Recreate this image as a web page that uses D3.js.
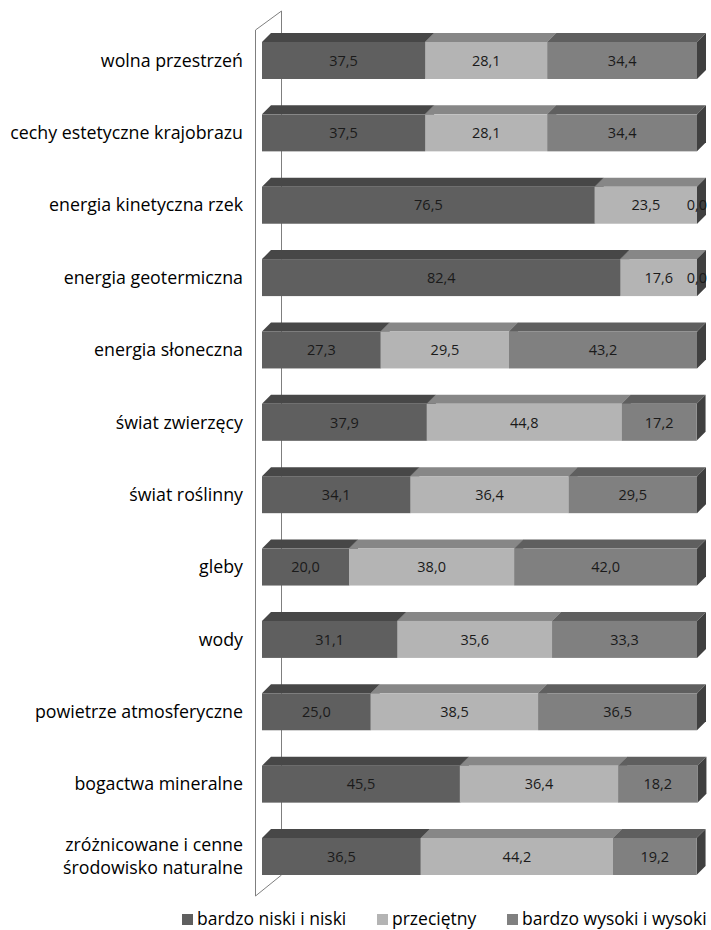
<!DOCTYPE html>
<html><head><meta charset="utf-8">
<script src="https://cdn.jsdelivr.net/npm/d3@7"></script>
<style>body{margin:0;background:#fff}svg{display:block}</style>
</head><body>
<script>
const categories = ["wolna przestrzeń","cechy estetyczne krajobrazu","energia kinetyczna rzek","energia geotermiczna","energia słoneczna","świat zwierzęcy","świat roślinny","gleby","wody","powietrze atmosferyczne","bogactwa mineralne","zróżnicowane i cenne\nśrodowisko naturalne"];
const seriesNames = ["bardzo niski i niski","przeciętny","bardzo wysoki i wysoki"];
const low  = [37.5,37.5,76.5,82.4,27.3,37.9,34.1,20.0,31.1,25.0,45.5,36.5];
const avg  = [28.1,28.1,23.5,17.6,29.5,44.8,36.4,38.0,35.6,38.5,36.4,44.2];
const high = [34.4,34.4,0.0,0.0,43.2,17.2,29.5,42.0,33.3,36.5,18.2,19.2];

const W=711,H=930;
const frontCol=["#5f5f5f","#b4b4b4","#808080"];
const topCol=["#474747","#878787","#5f5f5f"];
const sideCol=["#3c3c3c","#878787","#404040"];
const DX=9, DY=9;

const svg=d3.select("body").append("svg").attr("width",W).attr("height",H);
const x=d3.scaleLinear().domain([0,100]).range([262,697]);
const y=d3.scaleBand().domain(categories).range([42,875]).paddingInner(0.4887).paddingOuter(0);
const bh=y.bandwidth();

// wall
svg.append("path").attr("d","M255.5,30 L281.5,11 L281.5,875 L255.5,896 Z")
  .attr("fill","#fff").attr("stroke","#7f7f7f").attr("stroke-width",1);

const rows=categories.map((c,i)=>{
  const vals=[low[i],avg[i],high[i]];
  let cum=0;
  return vals.map((v,k)=>{const s={c,k,v,x0:cum,x1:cum+v};cum+=v;return s;});
});

const g=svg.append("g");
rows.forEach(segs=>{
  const y0=y(segs[0].c), y1=y0+bh;
  segs.forEach(s=>{
    const a=x(s.x0), b=x(s.x1);
    g.append("path").attr("d",`M${a},${y0} L${a+DX},${y0-DY} L${b+DX},${y0-DY} L${b},${y0} Z`).attr("fill",topCol[s.k]);
    g.append("path").attr("d",`M${b},${y0} L${b+DX},${y0-DY} L${b+DX},${y1-DY} L${b},${y1} Z`).attr("fill",sideCol[s.k]);
    g.append("rect").attr("x",a).attr("y",y0).attr("width",Math.max(0,b-a)).attr("height",bh).attr("fill",frontCol[s.k]);
  });
  segs.forEach(s=>{
    g.append("text").attr("x",(x(s.x0)+x(s.x1))/2).attr("y",y0+bh/2).attr("dy","0.36em")
      .attr("text-anchor","middle").attr("font-family","Open Sans").attr("font-size",14.5).attr("fill","#1a1a1a")
      .text(s.v.toFixed(1).replace(".",","));
  });
});

// category labels
categories.forEach(c=>{
  const lines=c.split("\n");
  const cy=y(c)+bh/2;
  const lh=23;
  const t=svg.append("text").attr("text-anchor","end").attr("font-family","Open Sans").attr("font-size",17.8).attr("fill","#000");
  lines.forEach((l,j)=>{
    t.append("tspan").attr("x",243).attr("y",cy+(j-(lines.length-1)/2)*lh).attr("dy","0.35em").text(l);
  });
});

// legend
const lx=[182,377,507];
seriesNames.forEach((n,k)=>{
  svg.append("rect").attr("x",lx[k]).attr("y",914).attr("width",11).attr("height",11).attr("fill",frontCol[k]);
  svg.append("text").attr("x",lx[k]+15).attr("y",925).attr("font-family","Open Sans").attr("font-size",17.5).attr("fill","#000").text(n);
});
</script>
</body></html>
